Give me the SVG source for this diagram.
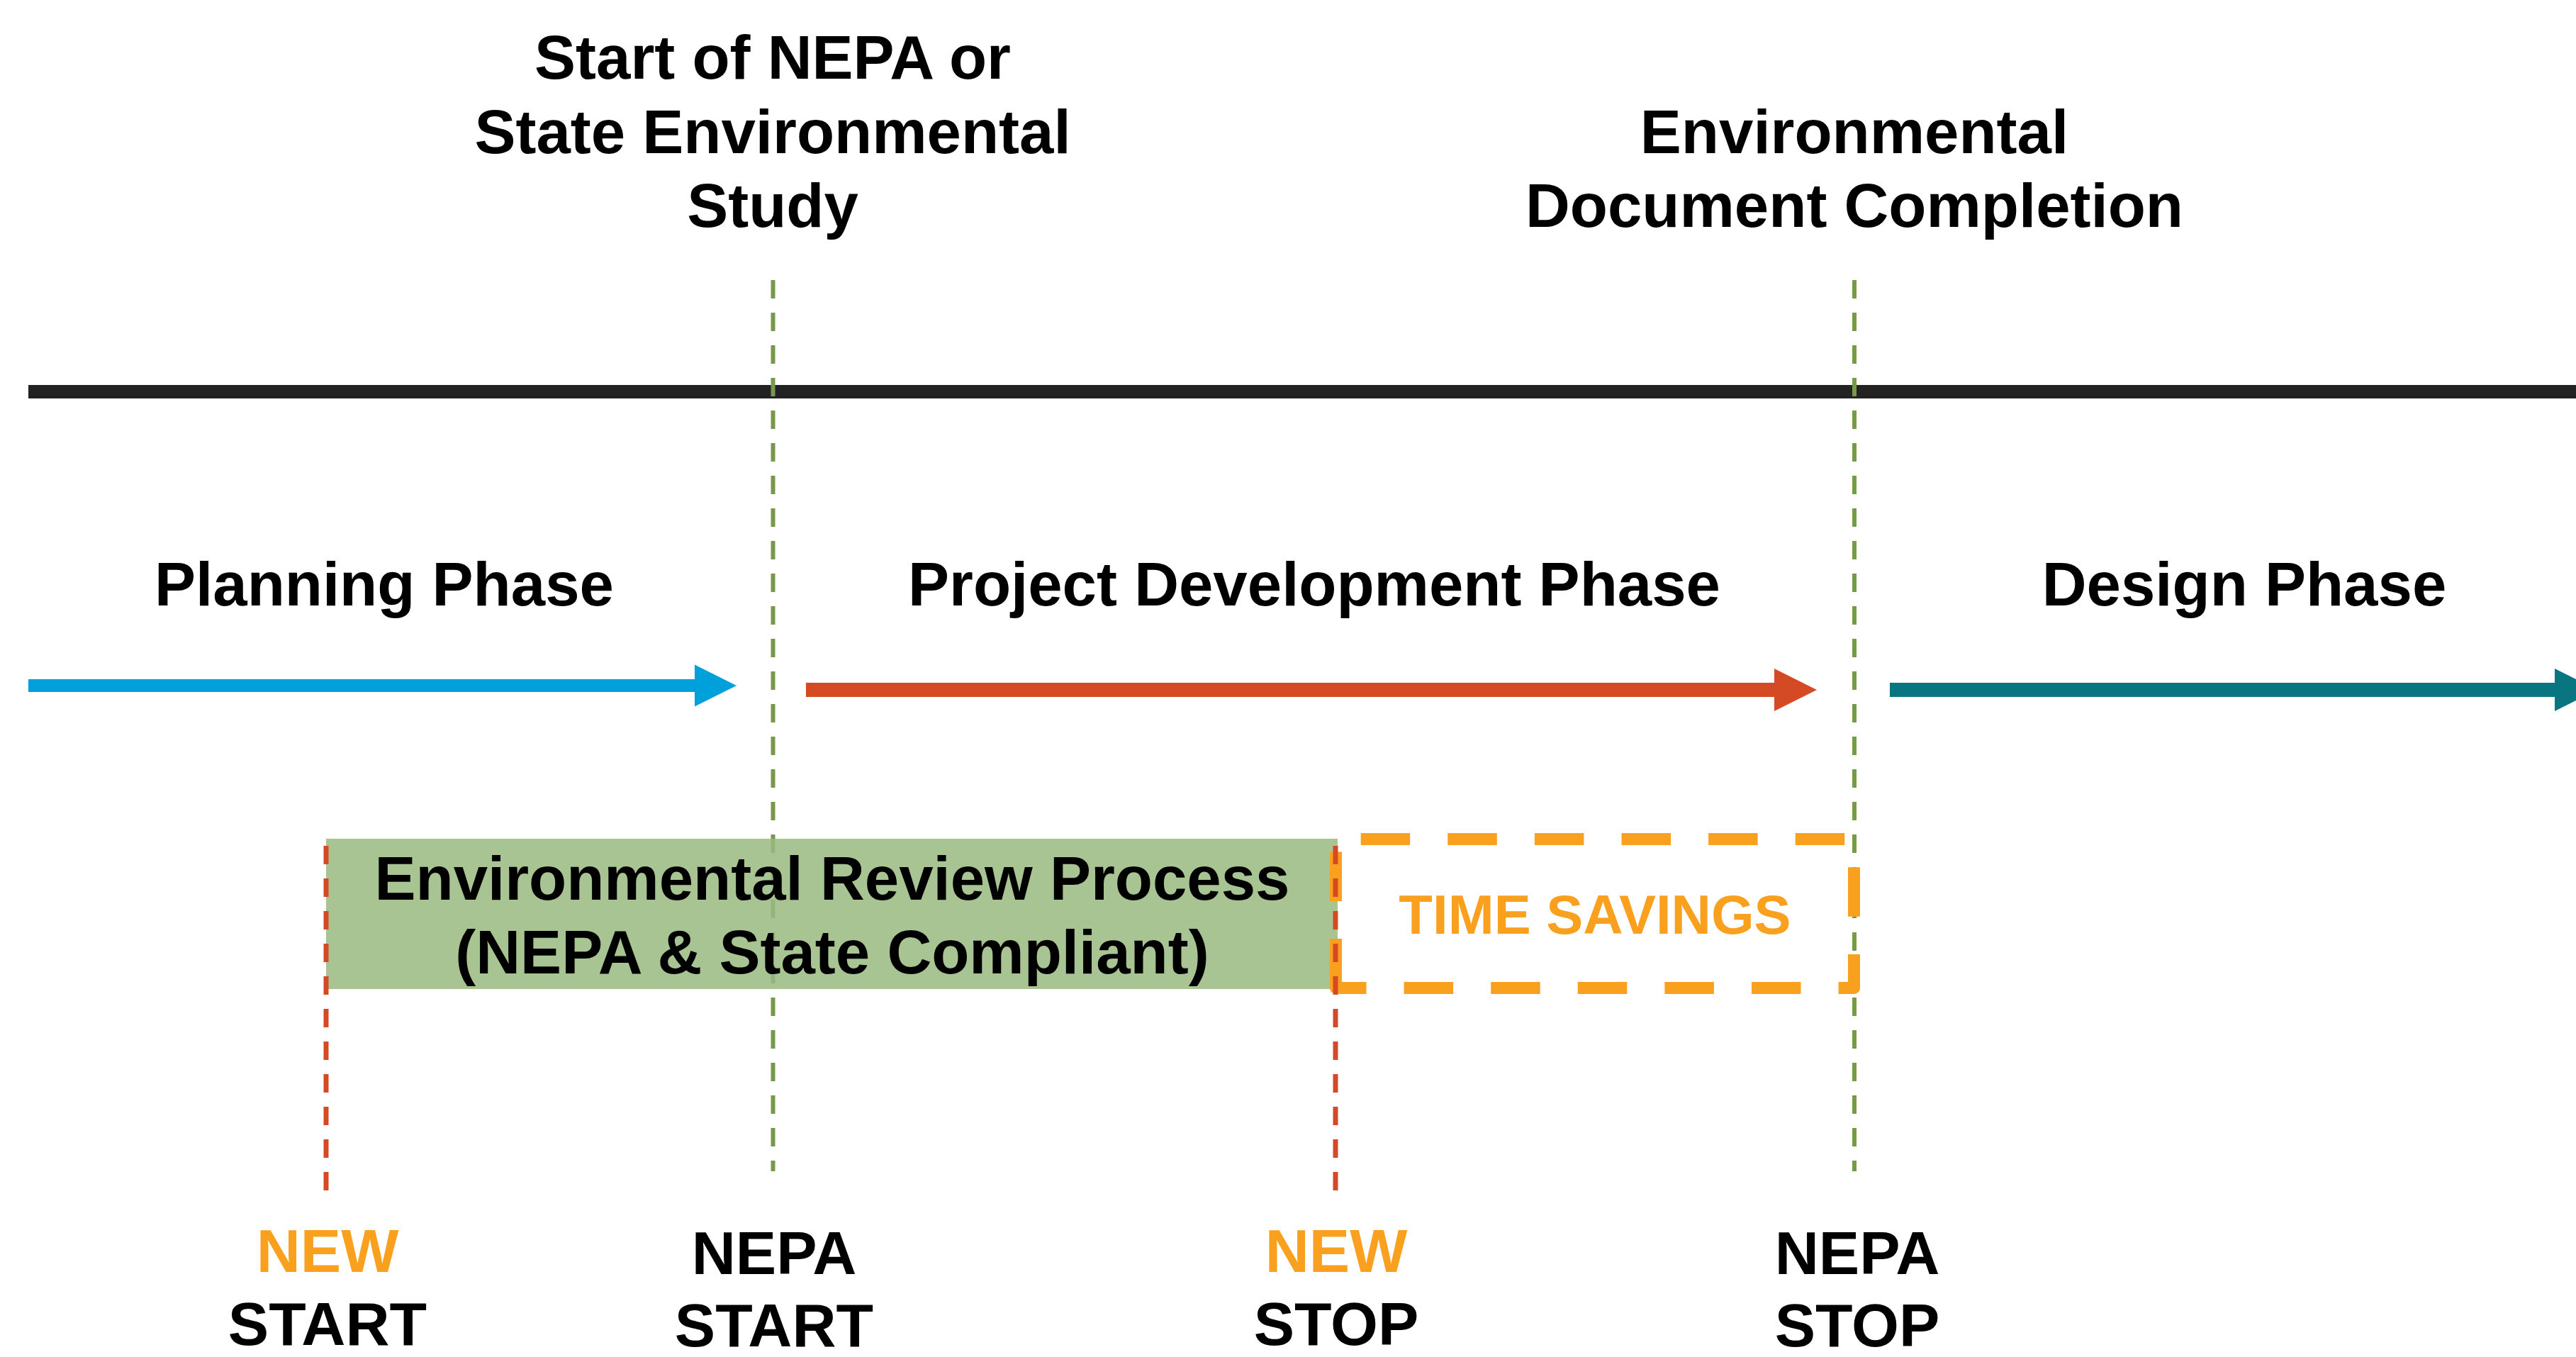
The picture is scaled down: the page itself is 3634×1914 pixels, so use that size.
<svg xmlns="http://www.w3.org/2000/svg" width="3634" height="1914" viewBox="0 0 3634 1914">
<style>
text{font-family:"Liberation Sans",Arial,sans-serif;font-weight:bold;text-anchor:middle;fill:#000}
.t87{font-size:87px}
.t86{font-size:86px}
.org{fill:#F9A11E}
.gdash{stroke:#76994A;stroke-width:6;stroke-dasharray:26 20;fill:none}
.rdash{stroke:#D44A25;stroke-width:7;stroke-dasharray:26 20;fill:none}
</style>
<rect width="3634" height="1914" fill="#fff"/>
<g id="timeline">
<rect x="40" y="543" width="3594" height="19" fill="#222"/>
</g>
<g id="connectors">
<line class="gdash" x1="1090.5" y1="395" x2="1090.5" y2="1652"/>
<line class="gdash" x1="2616" y1="395" x2="2616" y2="1652"/>
<path id="arrow-planning" d="M40,958 H980 V937.5 L1039,967 L980,996.5 V976 H40 Z" fill="#00A0DB"/>
<path id="arrow-project" d="M1137,963 H2503 V943 L2563,973 L2503,1003 V983 H1137 Z" fill="#D44A25"/>
<path id="arrow-design" d="M2666,963 H3604 V943 L3664,973 L3604,1003 V983 H2666 Z" fill="#087580"/>
</g>
<g id="label-start-nepa">
<text class="t87" x="1090" y="111">Start of NEPA or</text>
<text class="t87" x="1090" y="216">State Environmental</text>
<text class="t87" x="1090" y="320">Study</text>
</g>
<g id="label-doc-completion">
<text class="t87" x="2616" y="216">Environmental</text>
<text class="t87" x="2616" y="320">Document Completion</text>
</g>
<g id="phase-labels">
<text class="t87" x="542" y="854">Planning Phase</text>
<text class="t87" x="1854" y="854">Project Development Phase</text>
<text class="t87" x="3166" y="854">Design Phase</text>
</g>
<g id="env-review">
<rect x="460" y="1183" width="1427" height="212" fill="rgb(154,186,128)" fill-opacity="0.85"/>
<text class="t87" x="1174" y="1269">Environmental Review Process</text>
<text class="t87" x="1174" y="1373">(NEPA &amp; State Compliant)</text>
</g>
<g id="time-savings">
<path d="M1884.5,1393.5 V1183.5 H2615.5 V1393.5 Z" fill="none" stroke="#F9A11E" stroke-width="17" stroke-dasharray="69.5 53.1" stroke-linejoin="round"/>
<text class="org" x="2250" y="1317" font-size="78">TIME SAVINGS</text>
</g>
<g id="red-markers">
<line class="rdash" x1="460" y1="1193" x2="460" y2="1679"/>
<line class="rdash" x1="1884" y1="1193" x2="1884" y2="1679"/>
</g>
<g id="new-start">
<text class="t86 org" x="462" y="1794">NEW</text>
<text class="t86" x="462" y="1897">START</text>
</g>
<g id="nepa-start">
<text class="t86" x="1092" y="1797">NEPA</text>
<text class="t86" x="1092" y="1899">START</text>
</g>
<g id="new-stop">
<text class="t86 org" x="1885" y="1794">NEW</text>
<text class="t86" x="1885" y="1897">STOP</text>
</g>
<g id="nepa-stop">
<text class="t86" x="2620" y="1797">NEPA</text>
<text class="t86" x="2620" y="1899">STOP</text>
</g>
</svg>
